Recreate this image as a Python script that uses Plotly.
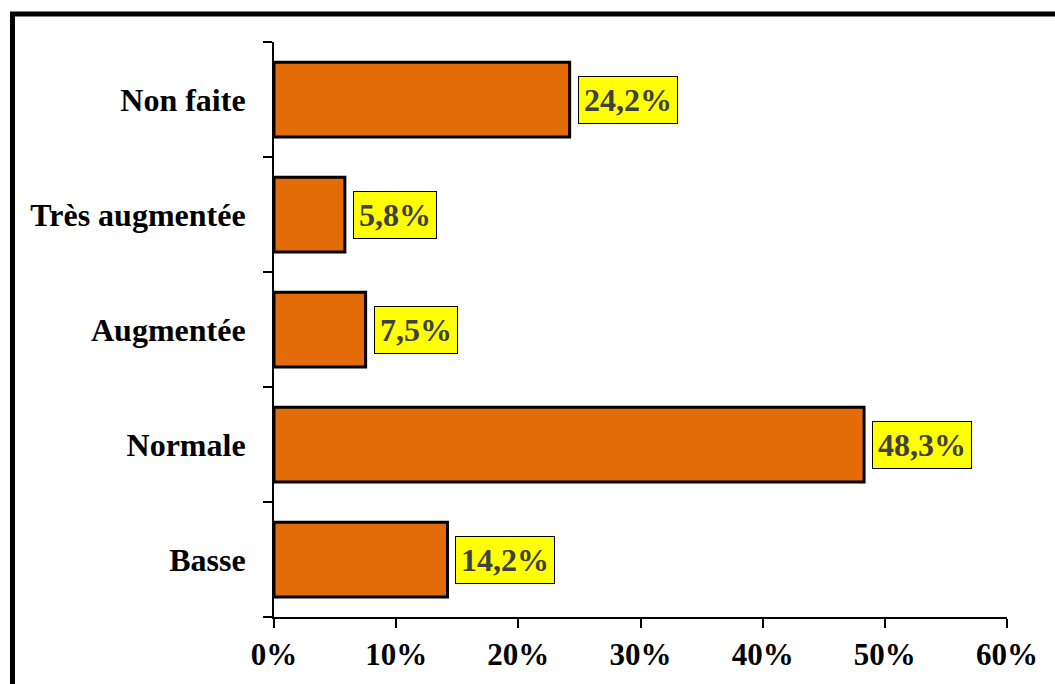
import plotly.graph_objects as go

categories = ["Basse", "Normale", "Augmentée", "Très augmentée", "Non faite"]
values = [14.2, 48.3, 7.5, 5.8, 24.2]
value_labels = ["14,2%", "48,3%", "7,5%", "5,8%", "24,2%"]
x_ticks = [0, 10, 20, 30, 40, 50, 60]
x_tick_labels = ["0%", "10%", "20%", "30%", "40%", "50%", "60%"]

FONT = "Liberation Serif, Times New Roman, serif"
W, H = 1055, 684
L, R, T, B = 274, 48, 42, 65
pw, ph = W - L - R, H - T - B

fig = go.Figure(go.Bar(
    x=values, y=categories, orientation="h",
    marker=dict(color="#E36C09", line=dict(color="black", width=3)),
    width=0.65,
))

for v, lab, cat in zip(values, value_labels, categories):
    fig.add_annotation(
        x=v, y=cat, text=f"<b>{lab}</b>", showarrow=False,
        xanchor="left", xshift=8,
        font=dict(family=FONT, size=32, color="#404040"),
        bgcolor="#FFFF00", bordercolor="black", borderwidth=1, borderpad=5,
    )

# outer frame (runs past right and bottom edges)
fig.add_shape(
    type="rect", xref="paper", yref="paper",
    x0=(12.5 - L) / pw, x1=(W + 20 - L) / pw,
    y0=-(B + 20) / ph, y1=(H - B - 14) / ph,
    line=dict(color="black", width=5),
)

fig.update_layout(
    width=W, height=H,
    margin=dict(l=L, r=R, t=T, b=B),
    paper_bgcolor="white", plot_bgcolor="white",
    showlegend=False,
    xaxis=dict(
        range=[0, 60], tickvals=x_ticks, ticktext=x_tick_labels,
        showgrid=False, zeroline=False,
        showline=True, linecolor="black", linewidth=2,
        ticks="outside", ticklen=9, tickwidth=2, tickcolor="black",
        tickfont=dict(family=FONT, size=31, color="black", weight="bold"),
    ),
    yaxis=dict(
        categoryorder="array", categoryarray=categories,
        showgrid=False, zeroline=False,
        showline=True, linecolor="black", linewidth=2,
        ticks="outside", ticklen=9, tickwidth=2, tickcolor="black",
        tickson="boundaries",
        tickfont=dict(family=FONT, size=32, color="black", weight="bold"),
        ticklabelstandoff=20,
    ),
)

fig.write_html("out.html")
